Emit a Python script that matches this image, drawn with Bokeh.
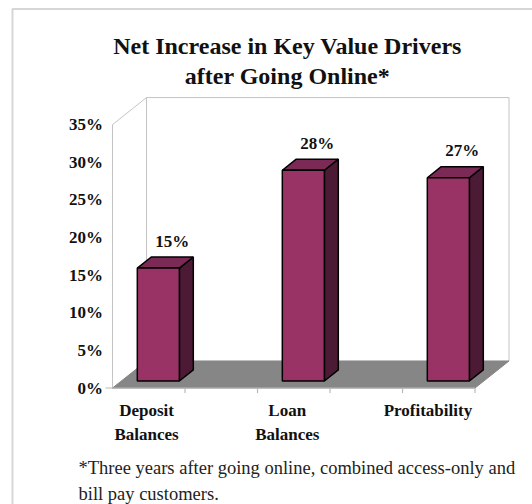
from bokeh.plotting import figure
from bokeh.models import Range1d
from bokeh.core.properties import value
from bokeh.embed import file_html
from bokeh.resources import INLINE

# ---- data ----
categories = ["Deposit Balances", "Loan Balances", "Profitability"]
tick_labels = ["Deposit\nBalances", "Loan\nBalances", "Profitability"]
increase_pct = [15, 28, 27]
value_labels = ["15%", "28%", "27%"]
y_ticks = [0, 5, 10, 15, 20, 25, 30, 35]
y_tick_labels = ["0%", "5%", "10%", "15%", "20%", "25%", "30%", "35%"]
title_lines = ["Net Increase in Key Value Drivers", "after Going Online*"]
footnote_lines = ["*Three years after going online, combined access-only and",
                  "bill pay customers."]

FONT = "Liberation Serif"
INK = "#111111"

# ---- scale: pixels per unit ----
W, H = 532, 504
SX, OX = 145.0, 149.0     # px per category unit, px of x=0
SY, OY = 7.526, 387.5     # px per percent, px of y=0

def ppx(px):
    return (px - OX) / SX

def ppy(py):
    return (OY - py) / SY

# ---- geometry (oblique projection) ----
X0, XR = -0.255, 2.245          # front floor extent in category units
DX, DY = 0.2345, 3.59           # full depth offset (x units, % units)
D0, D1 = 0.26, 0.67             # bar depth span (fraction of depth)
HW = 0.145                      # bar half width
YMAX = y_ticks[-1]

p = figure(width=W, height=H, output_backend="svg", toolbar_location=None,
           x_range=Range1d(ppx(0), ppx(W)), y_range=Range1d(ppy(H), ppy(0)),
           x_axis_location=None, y_axis_location=None, title_location=None,
           min_border=0)
p.grid.visible = False
p.outline_line_color = None
p.background_fill_color = "white"
p.border_fill_color = "white"

# ---- outer border ----
p.line([ppx(12), ppx(12), ppx(W + 20)], [ppy(H + 20), ppy(8.5), ppy(8.5)],
       line_color="#d6d6d6", line_width=2)

# ---- walls ----
wall = "#c4c4c4"
p.line([X0, X0, X0 + DX, XR + DX, XR + DX],
       [0, YMAX, YMAX + DY, YMAX + DY, DY], line_color=wall, line_width=1)
p.line([X0 + DX, X0 + DX], [DY, YMAX + DY], line_color=wall, line_width=1)

# floor
p.patch([X0, XR, XR + DX, X0 + DX], [0, 0, DY, DY],
        fill_color="#868686", line_color="#868686", line_width=1)
# category axis line + ticks
p.line([X0 - 7 / SX, XR], [0, 0], line_color="#b8b8b8", line_width=1.2)
x_minor = [0.245, 0.745, 1.245, 1.745, 2.245]
p.segment(x0=x_minor, y0=[0] * 5, x1=x_minor, y1=[-5 / SY] * 5,
          line_color="#b8b8b8", line_width=1.2)

# ---- bars ----
cat_pos = list(range(len(categories)))
for i, v in zip(cat_pos, increase_pct):
    l = i - HW + D0 * DX
    r = i + HW + D0 * DX
    b = D0 * DY
    t = v + D0 * DY
    ddx, ddy = (D1 - D0) * DX, (D1 - D0) * DY
    p.patch([r, r + ddx, r + ddx, r], [b, b + ddy, t + ddy, t],
            fill_color="#4d1a35", line_color="black", line_width=1.5)
    p.patch([l, r, r + ddx, l + ddx], [t, t, t + ddy, t + ddy],
            fill_color="#7b2a55", line_color="black", line_width=1.5)
    p.quad(left=l, right=r, bottom=b, top=t,
           fill_color="#993366", line_color="black", line_width=1.5)

# value labels
lx = [i + D1 * DX for i in cat_pos]
ly = [v + D1 * DY + 16 / SY for v in increase_pct]
p.text(x=lx, y=ly, text=value_labels, text_font=value(FONT),
       text_font_style="bold", text_font_size="17px", text_align="center",
       text_baseline="middle", text_color=INK)

# y tick labels
p.text(x=[X0 - 9.5 / SX] * len(y_ticks), y=y_ticks, text=y_tick_labels,
       text_font=value(FONT), text_font_style="bold", text_font_size="17px",
       text_align="right", text_baseline="middle", text_color=INK)

# category labels
cx = [i - 0.02 - 0.03 * i for i in cat_pos]
p.text(x=cx, y=[ppy(400)] * len(cat_pos), text=tick_labels,
       text_font=value(FONT), text_font_style="bold", text_font_size="17px",
       text_align="center", text_baseline="top", text_line_height=1.3,
       text_color=INK)

# ---- title ----
p.text(x=[ppx(287)] * 2, y=[ppy(45), ppy(75)], text=title_lines,
       text_font=value(FONT), text_font_style="bold", text_font_size="24px",
       text_align="center", text_baseline="alphabetic", text_color=INK)

# ---- footnote ----
p.text(x=[ppx(78)] * 2, y=[ppy(467), ppy(493)], text=footnote_lines,
       text_font=value(FONT), text_font_size="18.5px", text_align="left",
       text_baseline="alphabetic", text_color="#222222")

open("out.html", "w").write(file_html(p, INLINE))
